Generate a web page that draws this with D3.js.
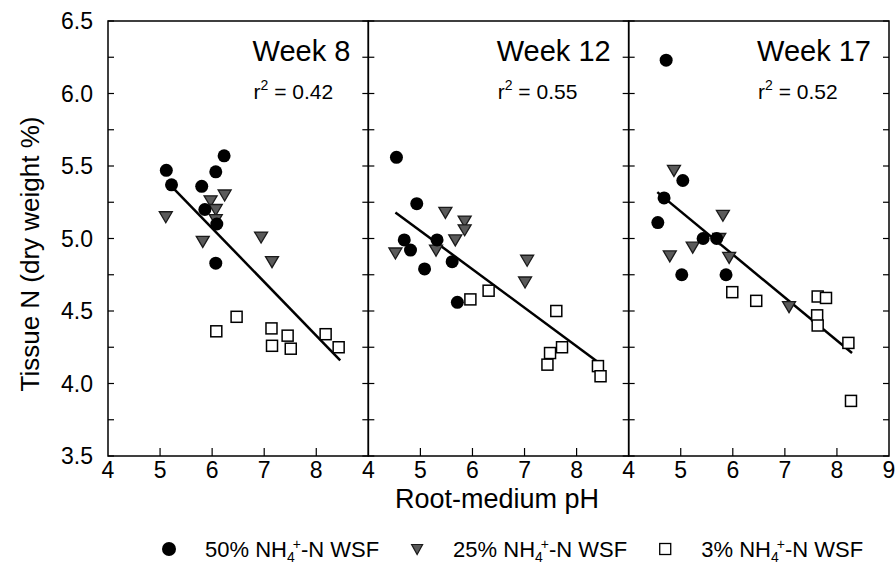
<!DOCTYPE html>
<meta charset="utf-8">
<script src="https://cdn.jsdelivr.net/npm/d3@7"></script>
<style>
body { margin: 0; background: #fff; }
text { font-family: "Liberation Sans", Arial, sans-serif; fill: #000; }
.frame { fill: none; stroke: #000; stroke-width: 1.5px; }
.tick line { stroke: #000; stroke-width: 1.2px; }
.fit { stroke: #000; stroke-width: 2.5px; }
</style>
<body>
<script>

// panels (weeks), r squared
var weeks = ["Week 8", "Week 12", "Week 17"];
var rsq = ["0.42", "0.55", "0.52"];

// 50% NH4+-N WSF (filled circles), per panel: [pH, tissue N]
var high = [
  [[6.23,5.57],[5.12,5.47],[6.07,5.46],[5.22,5.37],[5.80,5.36],[5.86,5.20],[6.09,5.10],[6.07,4.83]],
  [[4.54,5.56],[4.93,5.24],[4.69,4.99],[4.81,4.92],[5.32,4.99],[5.08,4.79],[5.61,4.84],[5.71,4.56]],
  [[4.72,6.23],[5.04,5.40],[4.68,5.28],[4.56,5.11],[5.43,5.00],[5.69,5.00],[5.02,4.75],[5.87,4.75]]
];

// 25% NH4+-N WSF (gray triangles)
var mid = [
  [[5.11,5.15],[5.97,5.26],[6.24,5.30],[6.07,5.20],[6.07,5.13],[5.82,4.98],[6.94,5.01],[7.15,4.84]],
  [[4.52,4.90],[5.48,5.18],[5.85,5.12],[5.85,5.06],[5.67,4.99],[5.30,4.92],[7.05,4.85],[7.01,4.70]],
  [[4.87,5.47],[5.81,5.16],[5.74,5.00],[5.23,4.94],[4.79,4.88],[5.93,4.87],[7.08,4.53]]
];

// 3% NH4+-N WSF (open squares)
var low = [
  [[6.47,4.46],[6.08,4.36],[7.14,4.38],[7.45,4.33],[7.15,4.26],[7.51,4.24],[8.18,4.34],[8.43,4.25]],
  [[5.96,4.58],[6.31,4.64],[7.61,4.50],[7.72,4.25],[7.49,4.21],[7.44,4.13],[8.41,4.12],[8.46,4.05]],
  [[5.99,4.63],[6.45,4.57],[7.63,4.60],[7.79,4.59],[7.62,4.47],[7.63,4.40],[8.22,4.28],[8.27,3.88]]
];

// regression lines: [x1, y1, x2, y2]
var fits = [
  [5.22, 5.36, 8.46, 4.16],
  [4.52, 5.18, 8.48, 4.13],
  [4.55, 5.32, 8.29, 4.21]
];

var xTicks = [5, 6, 7, 8];
var yTicks = [3.5, 4.0, 4.5, 5.0, 5.5, 6.0, 6.5];
var yMinor = d3.range(3.5, 6.51, 0.25);
var legendLabels = ["50%", "25%", "3%"];

var width = 895, height = 565;
var mLeft = 108, mTop = 21, mBottom = 456, mRight = 889;
var pw = (mRight - mLeft) / 3;

var svg = d3.select("body").append("svg")
    .attr("width", width)
    .attr("height", height);

var y = d3.scaleLinear().domain([3.5, 6.5]).range([mBottom, mTop]);

weeks.forEach(function(w, i) {
  var x0 = mLeft + i * pw;
  var x = d3.scaleLinear().domain([4, 9]).range([x0, x0 + pw]);
  var g = svg.append("g");

  // inward ticks, left and right
  g.append("g").attr("class", "tick")
    .selectAll("line").data(yMinor).enter().append("line")
    .attr("x1", x0).attr("x2", x0 + 6)
    .attr("y1", function(d) { return y(d); })
    .attr("y2", function(d) { return y(d); });
  g.append("g").attr("class", "tick")
    .selectAll("line").data(yMinor).enter().append("line")
    .attr("x1", x0 + pw - 6).attr("x2", x0 + pw)
    .attr("y1", function(d) { return y(d); })
    .attr("y2", function(d) { return y(d); });
  g.append("g").attr("class", "tick")
    .selectAll("line").data(xTicks).enter().append("line")
    .attr("x1", function(d) { return x(d); })
    .attr("x2", function(d) { return x(d); })
    .attr("y1", mBottom).attr("y2", mBottom - 8);

  g.append("rect").attr("class", "frame")
    .attr("x", x0).attr("y", mTop)
    .attr("width", pw).attr("height", mBottom - mTop);

  // x tick labels
  var xl = (i == 2) ? [4, 5, 6, 7, 8, 9] : [4, 5, 6, 7, 8];
  g.selectAll(".xl").data(xl).enter().append("text")
    .attr("x", function(d) { return x(d); })
    .attr("y", mBottom + 22)
    .attr("text-anchor", "middle")
    .style("font-size", "23px")
    .text(function(d) { return d; });

  // fit line
  var f = fits[i];
  g.append("line").attr("class", "fit")
    .attr("x1", x(f[0])).attr("y1", y(f[1]))
    .attr("x2", x(f[2])).attr("y2", y(f[3]));

  // squares
  g.selectAll(".sq").data(low[i]).enter().append("rect")
    .attr("x", function(d) { return x(d[0]) - 5.5; })
    .attr("y", function(d) { return y(d[1]) - 5.5; })
    .attr("width", 11).attr("height", 11)
    .style("fill", "#fff").style("stroke", "#000").style("stroke-width", 1.5);

  // triangles
  g.selectAll(".tri").data(mid[i]).enter().append("path")
    .attr("d", "M-6.5,-5L6.5,-5L0,6Z")
    .attr("transform", function(d) { return "translate(" + x(d[0]) + "," + y(d[1]) + ")"; })
    .style("fill", "#5a5a5a").style("stroke", "#1a1a1a").style("stroke-width", 1.3);

  // circles
  g.selectAll(".ci").data(high[i]).enter().append("circle")
    .attr("cx", function(d) { return x(d[0]); })
    .attr("cy", function(d) { return y(d[1]); })
    .attr("r", 6.5)
    .style("fill", "#000");

  // panel labels: week right aligned, r2 starts under it
  var wt = g.append("text")
    .attr("x", x0 + pw - 18).attr("y", 61)
    .attr("text-anchor", "end")
    .style("font-size", "29px")
    .text(w);
  var wx = x0 + pw - 18 - wt.node().getComputedTextLength();
  var r = g.append("text")
    .attr("x", wx + 1).attr("y", 99)
    .style("font-size", "21px");
  r.append("tspan").text("r");
  r.append("tspan").attr("dy", -9).style("font-size", "14px").text("2");
  r.append("tspan").attr("dy", 9).text(" = " + rsq[i]);
});

// y tick labels
svg.selectAll(".yl").data(yTicks).enter().append("text")
  .attr("x", 93)
  .attr("y", function(d) { return y(d) + 8; })
  .attr("text-anchor", "end")
  .style("font-size", "23px")
  .text(function(d) { return d.toFixed(1); });

// axis titles
svg.append("text")
  .attr("transform", "translate(39,254) rotate(-90)")
  .attr("text-anchor", "middle")
  .style("font-size", "26px")
  .text("Tissue N (dry weight %)");

svg.append("text")
  .attr("x", 497).attr("y", 508)
  .attr("text-anchor", "middle")
  .style("font-size", "27px")
  .text("Root-medium pH");

// legend, laid out left to right
var ly = 549, lx = 169;
legendLabels.forEach(function(lab, i) {
  if (i == 0) {
    svg.append("circle").attr("cx", lx).attr("cy", ly).attr("r", 7).style("fill", "#000");
  } else if (i == 1) {
    svg.append("path").attr("d", "M-5.5,-4.5L5.5,-4.5L0,5.5Z")
      .attr("transform", "translate(" + lx + "," + ly + ")")
      .style("fill", "#5a5a5a").style("stroke", "#1a1a1a").style("stroke-width", 1.2);
  } else {
    svg.append("rect").attr("x", lx - 5.5).attr("y", ly - 5.5).attr("width", 11).attr("height", 11)
      .style("fill", "#fff").style("stroke", "#000").style("stroke-width", 1.3);
  }
  var t = svg.append("text").attr("x", lx + 36).attr("y", ly + 8).style("font-size", "22px");
  t.append("tspan").text(lab + " NH");
  t.append("tspan").attr("dy", 5).style("font-size", "14px").text("4");
  t.append("tspan").attr("dx", -2).attr("dy", -13).style("font-size", "14px").text("+");
  t.append("tspan").attr("dy", 8).text("-N WSF");
  lx = lx + 36 + t.node().getComputedTextLength() + 36;
});

</script>
</body>
</html>
